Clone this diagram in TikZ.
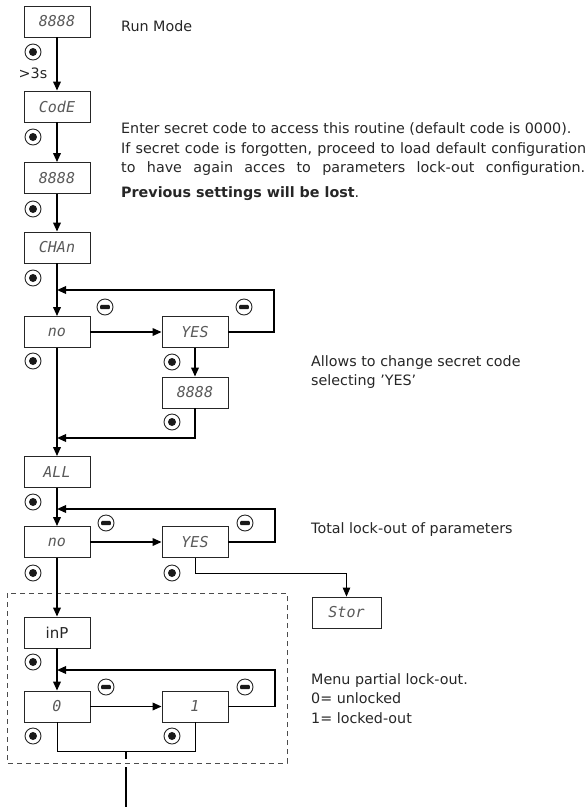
\documentclass[tikz,border=0pt]{standalone}
\usepackage{fontspec}
\setmainfont{DejaVu Sans}
\newfontfamily\lcdfont{DejaVu Sans Mono}
\usetikzlibrary{arrows.meta}
\begin{document}
\begin{tikzpicture}[x=1pt,y=-1pt,
  lcd/.style={draw=black!85, line width=0.8pt, minimum width=66pt, minimum height=31pt,
    inner sep=0pt, font=\lcdfont\itshape\fontsize{15}{15}\selectfont, text=black!65},
  plainbox/.style={lcd, font=\fontsize{15}{15}\selectfont, text=black!85},
  flow/.style={line width=1.8pt, -{Triangle[length=9pt,width=7.5pt]}},
  bar/.style={line width=1.8pt},
  thinl/.style={line width=0.9pt},
  txt/.style={font=\fontsize{14.3}{17}\selectfont, text=black!85, anchor=base west, inner sep=0pt},
  okbtn/.style={circle, draw=black!85, line width=0.9pt, minimum size=16pt, inner sep=0pt,
    path picture={\fill[black!90] (path picture bounding box.center) circle (4pt);}},
  minbtn/.style={circle, draw=black!85, line width=0.9pt, minimum size=16pt, inner sep=0pt,
    path picture={\fill[black!90, rounded corners=1pt]
      ([shift={(-4.8pt,-2.2pt)}]path picture bounding box.center) rectangle
      ([shift={(4.8pt,2.2pt)}]path picture bounding box.center);}},
  dashbox/.style={draw=black!70, line width=0.9pt, dash pattern=on 5pt off 4pt}
  ]
\useasboundingbox (0,0) rectangle (587,807);

% boxes
\node[lcd] (r1) at (57,21.5) {8888};
\node[lcd] (code) at (57,106.5) {CodE};
\node[lcd] (p1) at (57,178) {8888};
\node[lcd] (chan) at (57,247.5) {CHAn};
\node[lcd] (no1) at (57,332) {no};
\node[lcd] (yes1) at (195,332) {YES};
\node[lcd] (p2) at (195,392.5) {8888};
\node[lcd] (all) at (57,472) {ALL};
\node[lcd] (no2) at (57,542) {no};
\node[lcd] (yes2) at (195,542) {YES};
\node[lcd, minimum width=69pt] (stor) at (346.5,612.5) {Stor};
\node[plainbox] (inp) at (57,632.5) {inP};
\node[lcd] (zero) at (57,706.5) {0};
\node[lcd] (one) at (195,706.5) {1};

% dashed frame
\draw[dashbox] (7,593) rectangle (287,763);

% buttons
\node[okbtn] (k1) at (33,52) {};
\node[txt, anchor=base] (gt) at (33,78) {>3s};
\node[okbtn] (k2) at (33,137) {};
\node[okbtn] (k3) at (33,209) {};
\node[okbtn] (k4) at (33,278) {};
\node[okbtn] (k5) at (33,361) {};
\node[okbtn] (k6) at (172,362) {};
\node[okbtn] (k7) at (172,422) {};
\node[okbtn] (k8) at (33,502) {};
\node[okbtn] (k9) at (33,573) {};
\node[okbtn] (k10) at (172,573) {};
\node[okbtn] (k11) at (33,662) {};
\node[okbtn] (k12) at (33,736) {};
\node[okbtn] (k13) at (172,736) {};
\node[minbtn] (m1) at (105,307) {};
\node[minbtn] (m2) at (244,307) {};
\node[minbtn] (m3) at (106,523) {};
\node[minbtn] (m4) at (245,523) {};
\node[minbtn] (m5) at (106,687) {};
\node[minbtn] (m6) at (245,687) {};

% connectors
\draw[flow] (r1) -- (code);
\draw[flow] (code) -- (p1);
\draw[flow] (p1) -- (chan);
\draw[flow] (chan) -- (no1);
\draw[flow] (no1) -- (yes1);
\draw[flow] (yes1) -- (p2);
\draw[flow] (no1) -- (all);
\draw[flow] (all) -- (no2);
\draw[flow] (no2) -- (yes2);
\draw[flow] (no2) -- (inp);
\draw[flow] (inp) -- (zero);
\draw[flow] (zero) -- (one);

\coordinate (j1) at (57,290);
\draw[flow] (yes1.east) -- (274,332) -- (274,290) -- (j1);
\coordinate (j2) at (57,438);
\draw[flow] (p2.south) -- (195,438) -- (j2);
\coordinate (j3) at (57,509);
\draw[flow] (yes2.east) -- (275,542) -- (275,509) -- (j3);
\coordinate (j4) at (57,670);
\draw[flow] (one.east) -- (275,706.5) -- (275,670) -- (j4);

\draw[thinl, -{Triangle[length=9pt,width=7.5pt]}] (yes2.south) -- (195,573) -- (346.5,573) -- (stor.north);
\draw[thinl] (zero.south) -- (57,751) -- (195,751) -- (one.south);
\coordinate (x0) at (126,751);
\coordinate (x1) at (126,759);
\coordinate (x2) at (126,767);
\coordinate (x3) at (126,807);
\draw[bar] (x0) -- (x1);
\draw[bar] (x2) -- (x3);

% texts
\node[txt] (t1) at (121,31) {Run Mode};
\node[txt] (t2) at (121,133) {Enter secret code to access this routine (default code is 0000).};
\node[txt] (t3) at (121,153) {\hbox to 465pt{If secret code is forgotten, proceed to load default configuration}};
\node[txt] (t4) at (121,172) {\hbox to 464pt{to have again acces to parameters lock-out configuration.}};
\node[txt] (t5) at (121,197) {\textbf{Previous settings will be lost}.};
\node[txt] (t6) at (311,366) {Allows to change secret code};
\node[txt] (t7) at (311,385) {selecting \char39 YES\char39};
\node[txt] (t8) at (311,533) {Total lock-out of parameters};
\node[txt] (t9) at (311,684) {Menu partial lock-out.};
\node[txt] (t10) at (311,703) {0= unlocked};
\node[txt] (t11) at (311,723) {1= locked-out};
\end{tikzpicture}
\end{document}
